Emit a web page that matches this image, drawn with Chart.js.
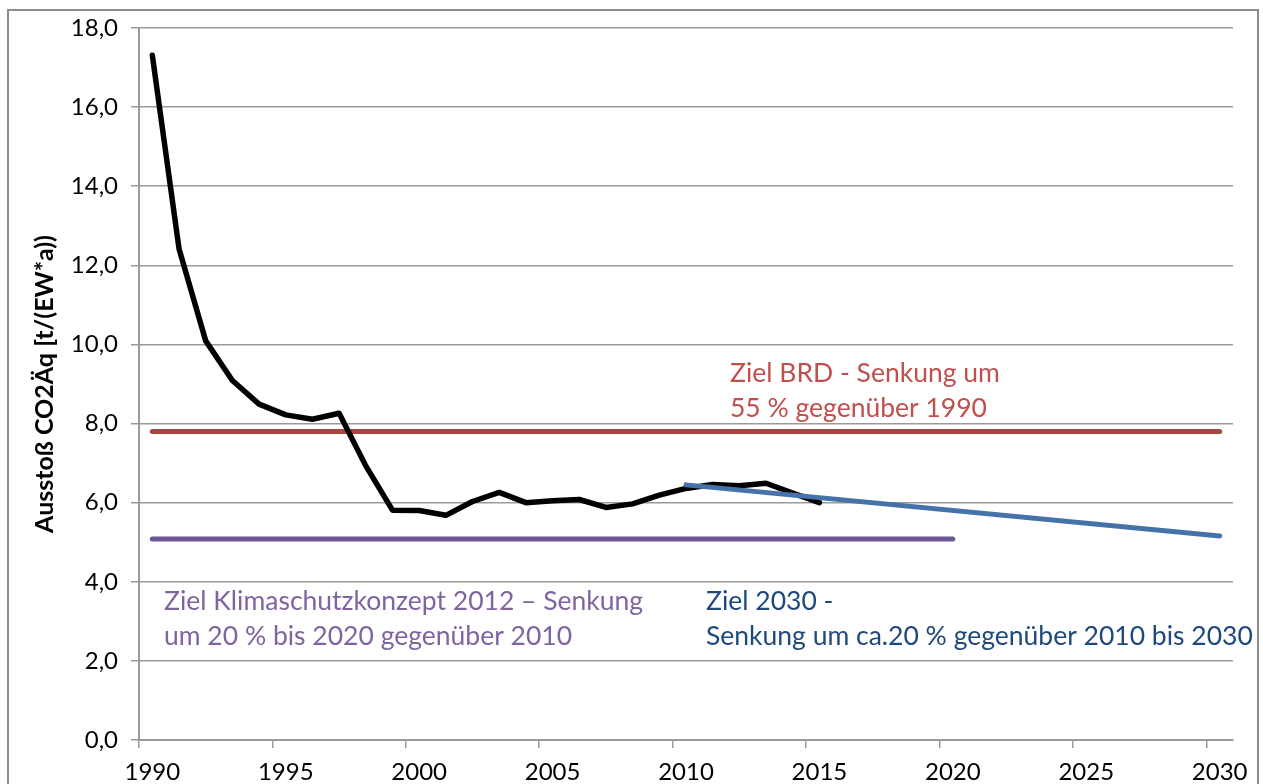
<!DOCTYPE html>
<html lang="de">
<head>
<meta charset="utf-8">
<title>CO2-Ausstoß pro Einwohner</title>
<script src="https://cdn.jsdelivr.net/npm/chart.js@4.4.1/dist/chart.umd.min.js"></script>
<style>
    html, body { margin: 0; padding: 0; background: #fff; overflow: hidden; }
    #rahmen { position: relative; width: 1263px; height: 784px; }
    #rand { position: absolute; left: 7px; top: 9px; width: 1252px; height: 800px; border: 2px solid #8c8c8c; box-sizing: border-box; }
    #diagramm { position: absolute; left: 0; top: 0; }
</style>
</head>
<body>
<div id="rahmen">
    <div id="rand"></div>
    <canvas id="diagramm" width="1263" height="784"></canvas>
</div>
<script>
// Jahre auf der Rubrikenachse
const jahre = [];
for (let j = 1990; j <= 2030; j++) jahre.push(String(j));

// Ausstoß CO2Äq in t/(EW*a), 1990 - 2015
const ausstossJahre = ['1990','1991','1992','1993','1994','1995','1996','1997','1998','1999','2000','2001','2002',
    '2003','2004','2005','2006','2007','2008','2009','2010','2011','2012','2013','2014','2015'];
const ausstossWerte = [17.31, 12.42, 10.09, 9.09, 8.49, 8.22, 8.11, 8.26, 6.93, 5.81, 5.80, 5.68, 6.03,
    6.26, 6.00, 6.05, 6.08, 5.88, 5.97, 6.19, 6.36, 6.46, 6.43, 6.49, 6.24, 6.00];

// Zielwerte (Anfangs- und Endpunkt)
const zielBrdJahre = ['1990', '2030'];
const zielBrdWerte = [7.8, 7.8];
const zielKlimaJahre = ['1990', '2020'];
const zielKlimaWerte = [5.08, 5.08];
const ziel2030Jahre = ['2010', '2030'];
const ziel2030Werte = [6.45, 5.16];

// Achse
const yTicks = [0, 2, 4, 6, 8, 10, 12, 14, 16, 18];

const punkte = (x, y) => x.map((jahr, i) => ({ x: jahr, y: y[i] }));

// Beschriftungen der Ziele
const beschriftungen = [
    { zeilen: ['Ziel BRD - Senkung um', '55 % gegenüber 1990'], farbe: '#C0504D', x: 730, y: 373 },
    { zeilen: ['Ziel Klimaschutzkonzept 2012 \u2013 Senkung', 'um 20 % bis 2020 gegenüber 2010'], farbe: '#8064A2', x: 164, y: 601 },
    { zeilen: ['Ziel 2030 -', 'Senkung um ca.20 % gegenüber 2010 bis 2030'], farbe: '#1F497D', x: 706, y: 601 }
];

const textPlugin = {
    id: 'zielTexte',
    afterDatasetsDraw(chart) {
        const ctx = chart.ctx;
        ctx.save();
        ctx.font = '26.5px Lato';
        ctx.textBaseline = 'middle';
        ctx.textAlign = 'left';
        beschriftungen.forEach(b => {
            ctx.fillStyle = b.farbe;
            b.zeilen.forEach((z, i) => ctx.fillText(z, b.x, b.y + i * 35.5));
        });
        ctx.restore();
    }
};

const grau = '#9a9a9a';

new Chart(document.getElementById('diagramm'), {
    type: 'line',
    data: {
        labels: jahre,
        datasets: [
            {
                label: 'Ziel 2030',
                data: punkte(ziel2030Jahre, ziel2030Werte),
                borderColor: '#4572A9',
                borderWidth: 5,
                borderCapStyle: 'round',
                spanGaps: true
            },
            {
                label: 'Ausstoß',
                data: punkte(ausstossJahre, ausstossWerte),
                borderColor: '#000000',
                borderWidth: 5.5,
                borderJoinStyle: 'round',
                borderCapStyle: 'round'
            },
            {
                label: 'Ziel BRD',
                data: punkte(zielBrdJahre, zielBrdWerte),
                borderColor: '#AA4542',
                borderWidth: 5,
                borderCapStyle: 'round',
                spanGaps: true
            },
            {
                label: 'Ziel Klimaschutzkonzept',
                data: punkte(zielKlimaJahre, zielKlimaWerte),
                borderColor: '#6D5895',
                borderWidth: 5,
                borderCapStyle: 'round',
                spanGaps: true
            }
        ]
    },
    options: {
        responsive: false,
        animation: false,
        elements: { point: { radius: 0, hoverRadius: 0 }, line: { tension: 0 } },
        layout: { padding: { left: 0, top: 28, right: 30, bottom: 0 } },
        plugins: { legend: { display: false }, tooltip: { enabled: false } },
        scales: {
            x: {
                type: 'category',
                offset: true,
                grid: {
                    offset: true,
                    drawOnChartArea: false,
                    drawTicks: true,
                    tickLength: 8,
                    lineWidth: 1.5,
                    tickColor: c => (c.type === 'tick' && c.index % 5 === 0) ? grau : 'rgba(0,0,0,0)',
                    color: 'rgba(0,0,0,0)'
                },
                border: { display: true, color: grau, width: 2 },
                ticks: {
                    autoSkip: false,
                    maxRotation: 0,
                    padding: 10,
                    color: '#000',
                    font: { family: 'Lato', size: 24 },
                    callback: (v, i) => i % 5 === 0 ? jahre[i] : ''
                },
                afterFit: s => { s.height = 44; }
            },
            y: {
                min: 0,
                max: 18,
                afterBuildTicks: s => { s.ticks = yTicks.map(v => ({ value: v })); },
                grid: { color: grau, lineWidth: 1.5, tickLength: 8 },
                border: { display: true, color: grau, width: 2 },
                ticks: {
                    padding: 13,
                    color: '#000',
                    font: { family: 'Lato', size: 24 },
                    callback: v => v.toFixed(1).replace('.', ',')
                },
                title: {
                    display: true,
                    text: 'Ausstoß CO2Äq [t/(EW*a))',
                    color: '#000',
                    font: { family: 'Lato', size: 25, weight: 'bold' },
                    padding: { top: 30, bottom: 0 }
                },
                afterFit: s => { s.width = 139; }
            }
        }
    },
    plugins: [textPlugin]
});
</script>
</body>
</html>
